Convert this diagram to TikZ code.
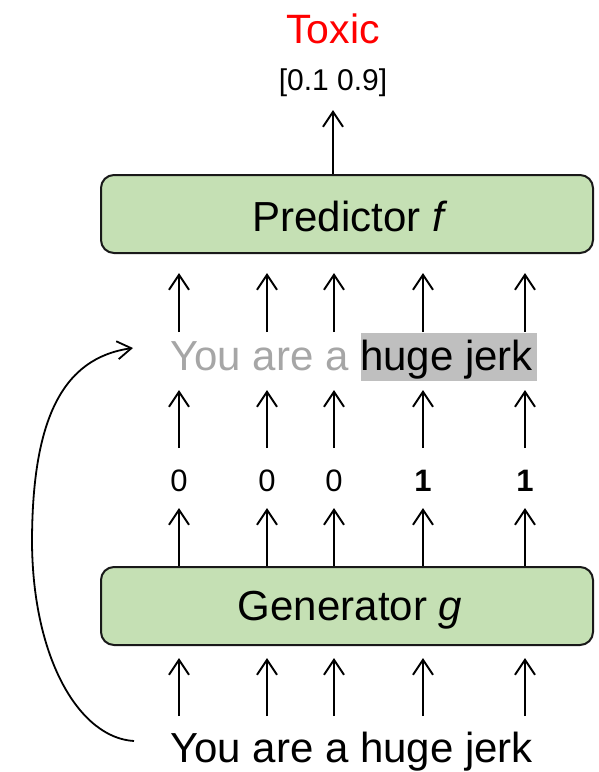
\documentclass[tikz,border=0pt]{standalone}
\usepackage{fontspec}
\setmainfont{Liberation Sans}
\usetikzlibrary{arrows.meta}
\definecolor{boxgreen}{HTML}{C5E0B4}
\definecolor{softgray}{HTML}{A6A6A6}
\definecolor{hlgray}{HTML}{BFBFBF}
\definecolor{toxred}{HTML}{FF0000}

\begin{document}
\begin{tikzpicture}[x=1pt,y=-1pt,
  tip/.style={-{Straight Barb[length=15pt,width=20pt,line width=2pt]}, line width=2pt},
  loop/.style={-{Straight Barb[length=14pt,width=18pt,line width=1.8pt]}, line width=1.8pt},
  block/.style={draw=black!90, line width=2pt, fill=boxgreen, rounded corners=13pt,
    minimum width=492pt, minimum height=78pt, inner sep=0pt},
  big/.style={font=\fontsize{42}{50}\selectfont, inner sep=0pt},
  bit/.style={font=\fontsize{31}{36}\selectfont, inner sep=0pt, anchor=base},
  mark0/.style={bit},
  mark1/.style={bit, font=\fontsize{31}{36}\selectfont\bfseries},
]
\useasboundingbox (0,0) rectangle (598,772);

% output label
\node[big, anchor=base, text=toxred, font=\fontsize{41}{50}\selectfont] (toxic) at (333,43) {Toxic};
\node[anchor=base, inner sep=0pt, font=\fontsize{30}{34}\selectfont] (score) at (333,90) {[0.1 0.9]};

% the two models
\node[block] (pred) at (347,214) {};
\node[big, anchor=base] (predlbl) at (350,231) {Predictor \textit{f}};
\node[block] (gen) at (347,606) {};
\node[big, anchor=base] (genlbl) at (350,620) {Generator \textit{g}};

% rationale sentence with highlighted words
\node[fill=hlgray, inner sep=0pt, minimum width=176pt, minimum height=48pt, anchor=north west] (hl) at (361,333) {};
\node[big, anchor=base west] (mid) at (170,370) {\textcolor{softgray}{You are a} huge jerk};

% binary mask
\node[mark0] (m1) at (179,491) {0};
\node[mark0] (m2) at (267,491) {0};
\node[mark0] (m3) at (334,491) {0};
\node[mark1] (m4) at (423,491) {1};
\node[mark1] (m5) at (525,491) {1};

% input sentence
\node[big, anchor=base west] (inp) at (170,762) {You are a huge jerk};

% per-token arrows
\foreach \c in {m1,m2,m3,m4,m5}{
  \coordinate (\c a) at (\c |- 0,716);
  \coordinate (\c b) at (\c |- 0,658);
  \coordinate (\c c) at (\c |- 0,508);
  \coordinate (\c d) at (\c |- 0,448);
  \coordinate (\c e) at (\c |- 0,390);
  \coordinate (\c f) at (\c |- 0,332);
  \coordinate (\c g) at (\c |- 0,273);
  \draw[tip] (\c a) -- (\c b);
  \draw[tip] (\c |- gen.north) -- (\c c);
  \draw[tip] (\c d) -- (\c e);
  \draw[tip] (\c f) -- (\c g);
}

% predictor output
\coordinate (outtip) at (333,110);
\draw[tip] (pred.north -| outtip) -- (outtip);

% loop back from the input to the rationale
\coordinate (loopstart) at (134,741);
\coordinate (loopend) at (133,348);
\draw[loop] (loopstart) .. controls (80,738) and (33,660) .. (32,543)
  .. controls (32,420) and (62,358) .. (loopend);
\end{tikzpicture}
\end{document}
